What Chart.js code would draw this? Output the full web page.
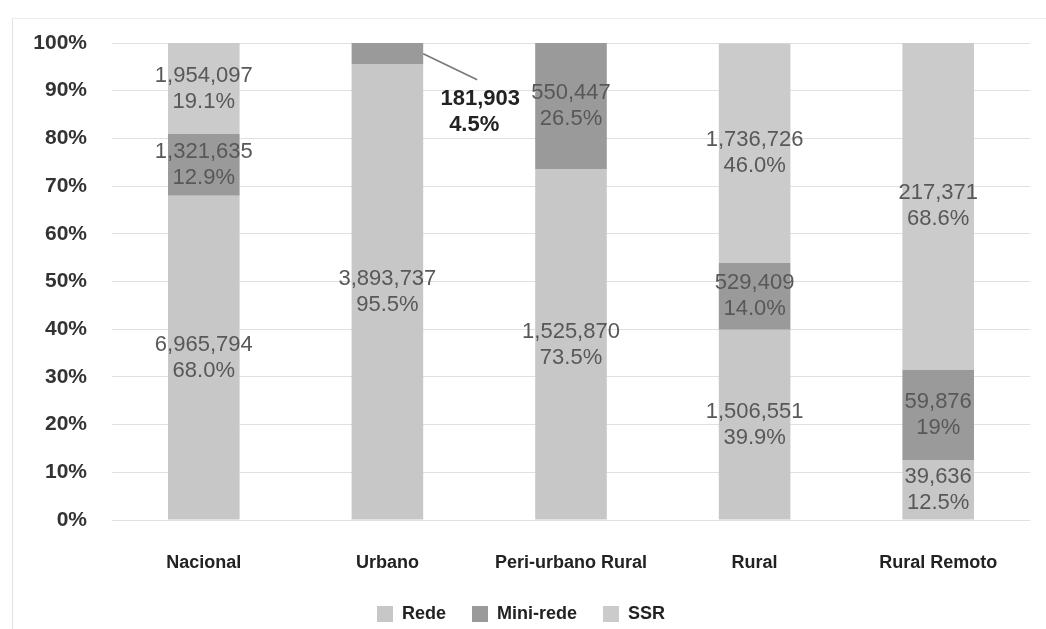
<!DOCTYPE html>
<html>
<head>
<meta charset="utf-8">
<script src="https://cdn.jsdelivr.net/npm/chart.js@4"></script>
<style>
  html, body { margin: 0; padding: 0; background: #fff; }
  #wrap { position: relative; width: 1046px; height: 629px; }
  #frame { position: absolute; left: 12px; top: 18px; right: 0; bottom: 0;
           border-left: 1px solid #e2e2e2; border-top: 1px solid #ececec; pointer-events: none; }
</style>
</head>
<body>
<div id="wrap"><canvas id="chart"></canvas><div id="frame"></div></div>
<script>
  const categories = ["Nacional", "Urbano", "Peri-urbano Rural", "Rural", "Rural Remoto"];

  // percent of households per category
  const redePct = ["68.0", "95.5", "73.5", "39.9", "12.5"];
  const miniPct = ["12.9", "4.5", "26.5", "14.0", "19"];
  const ssrPct  = ["19.1", null, null, "46.0", "68.6"];

  // absolute counts shown in the labels
  const redeCount = ["6,965,794", "3,893,737", "1,525,870", "1,506,551", "39,636"];
  const miniCount = ["1,321,635", "181,903", "550,447", "529,409", "59,876"];
  const ssrCount  = ["1,954,097", null, null, "1,736,726", "217,371"];

  const tickLabels = ["0%", "10%", "20%", "30%", "40%", "50%", "60%", "70%", "80%", "90%", "100%"];

  const counts = [redeCount, miniCount, ssrCount];

  const valueLabels = {
    id: "valueLabels",
    afterDatasetsDraw(chart) {
      const ctx = chart.ctx;
      ctx.save();
      ctx.textAlign = "center";
      ctx.textBaseline = "middle";
      chart.data.datasets.forEach((ds, di) => {
        const meta = chart.getDatasetMeta(di);
        meta.data.forEach((bar, i) => {
          const v = ds.data[i];
          if (v === null) return;
          const mid = (bar.y + bar.base) / 2;
          const lines = [counts[di][i], v + "%"];
          if (di === 1 && i === 1) {
            // small segment: label outside with a leader line
            const right = bar.x + bar.width / 2;
            ctx.strokeStyle = "#777";
            ctx.lineWidth = 1.5;
            ctx.beginPath();
            ctx.moveTo(right, mid);
            ctx.lineTo(right + 54, mid + 26);
            ctx.stroke();
            ctx.fillStyle = "#222";
            ctx.font = "bold 22px 'Liberation Sans', Arial, sans-serif";
            ctx.fillText(lines[0], right + 57, mid + 45);
            ctx.fillText(lines[1], right + 51, mid + 71);
            return;
          }
          ctx.fillStyle = "#585858";
          ctx.font = "22px 'Liberation Sans', Arial, sans-serif";
          ctx.fillText(lines[0], bar.x, mid - 13);
          ctx.fillText(lines[1], bar.x, mid + 13);
        });
      });
      ctx.restore();
    }
  };

  new Chart(document.getElementById("chart"), {
    type: "bar",
    data: {
      labels: categories,
      datasets: [
        { label: "Rede", data: redePct, backgroundColor: "#c7c7c7" },
        { label: "Mini-rede", data: miniPct, backgroundColor: "#9a9a9a" },
        { label: "SSR", data: ssrPct, backgroundColor: "#cbcbcb" }
      ]
    },
    options: {
      responsive: true,
      maintainAspectRatio: false,
      animation: false,
      layout: { padding: { left: 12, right: 16, top: 43, bottom: -4 } },
      datasets: { bar: { categoryPercentage: 1, barPercentage: 0.39 } },
      scales: {
        x: {
          stacked: true,
          afterFit(scale) { scale.height = 59; },
          grid: { display: false },
          border: { display: false },
          ticks: {
            color: "#222",
            padding: 24,
            font: { family: "'Liberation Sans', Arial, sans-serif", size: 18, weight: "bold" }
          }
        },
        y: {
          stacked: true,
          min: 0,
          max: 100,
          afterFit(scale) { scale.width = 100; },
          grid: { color: "#e0e0e0", drawTicks: false },
          border: { display: false },
          ticks: {
            stepSize: 10,
            padding: 25,
            color: "#333",
            font: { family: "'Liberation Sans', Arial, sans-serif", size: 21, weight: "bold" },
            callback: (v) => tickLabels[v / 10]
          }
        }
      },
      plugins: {
        legend: {
          position: "bottom",
          labels: {
            boxWidth: 16,
            boxHeight: 16,
            padding: 26,
            color: "#222",
            font: { family: "'Liberation Sans', Arial, sans-serif", size: 18, weight: "bold" }
          }
        },
        tooltip: { enabled: false }
      }
    },
    plugins: [valueLabels]
  });
</script>
</body>
</html>
